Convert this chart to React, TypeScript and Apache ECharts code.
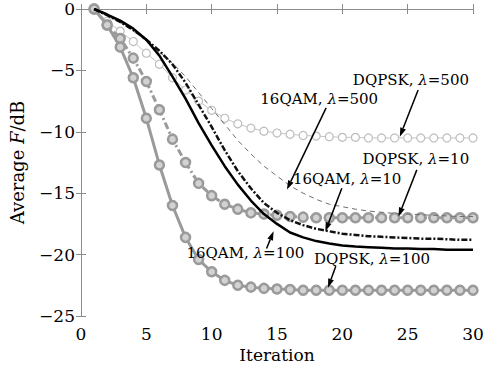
import React, { useEffect, useRef } from "react";
import * as echarts from "echarts";

// Iteration index (x) and average fidelity in dB for each scheme
const iterations = [1, 2, 3, 4, 5, 6, 7, 8, 9, 10, 11, 12, 13, 14, 15, 16, 17, 18, 19, 20, 21, 22, 23, 24, 25, 26, 27, 28, 29, 30];

const dqpsk500 = [0, -1.0, -1.8, -2.65, -3.6, -4.5, -5.6, -6.6, -7.5, -8.25, -8.9, -9.35, -9.7, -9.95, -10.1, -10.2, -10.3, -10.35, -10.4, -10.45, -10.45, -10.5, -10.5, -10.5, -10.5, -10.5, -10.5, -10.5, -10.5, -10.5];
const dqpsk10 = [0, -1.3, -2.4, -4.0, -5.9, -8.2, -10.6, -12.5, -14.2, -15.2, -15.9, -16.3, -16.6, -16.7, -16.8, -16.9, -16.95, -17.0, -17.0, -17.0, -17.0, -17.0, -17.0, -17.0, -17.0, -17.0, -17.0, -17.0, -17.0, -17.0];
const dqpsk100 = [0, -1.3, -3.1, -5.6, -8.9, -12.7, -16.0, -18.6, -20.4, -21.4, -22.1, -22.5, -22.65, -22.75, -22.8, -22.85, -22.9, -22.9, -22.9, -22.9, -22.9, -22.9, -22.9, -22.9, -22.9, -22.9, -22.9, -22.9, -22.9, -22.9];
const qam500 = [0, -0.5, -1.1, -1.8, -2.6, -3.5, -4.4, -5.5, -6.8, -8.1, -9.4, -10.7, -11.8, -12.8, -13.6, -14.4, -15.0, -15.5, -15.9, -16.1, -16.3, -16.45, -16.55, -16.65, -16.7, -16.75, -16.8, -16.85, -16.9, -16.9];
const qam10 = [0, -0.5, -1.05, -1.7, -2.5, -3.4, -4.5, -6.0, -7.8, -9.6, -11.5, -13.2, -14.6, -15.8, -16.6, -17.2, -17.6, -17.9, -18.1, -18.3, -18.4, -18.5, -18.55, -18.6, -18.65, -18.7, -18.7, -18.75, -18.8, -18.8];
const qam100 = [0, -0.45, -0.95, -1.6, -2.5, -3.8, -5.5, -7.3, -9.3, -11.1, -12.8, -14.3, -15.6, -16.7, -17.5, -18.2, -18.6, -18.9, -19.1, -19.25, -19.35, -19.4, -19.45, -19.5, -19.5, -19.55, -19.55, -19.6, -19.6, -19.6];

const xTicks = [0, 5, 10, 15, 20, 25, 30];
const yTicks = [-25, -20, -15, -10, -5, 0];

// Callouts: [scheme, lambda, label centre (x, y), arrow tail (x, y), arrow head (x, y)]
const callouts: [string, string, number, number, number, number, number, number][] = [
  ["DQPSK", "500", 25.25, -5.77, 25.8, -6.6, 24.4, -10.4],
  ["16QAM", "500", 18.23, -7.32, 18.76, -8.05, 15.76, -14.7],
  ["16QAM", "10", 20.37, -13.82, 19.96, -14.6, 18.7, -18.1],
  ["DQPSK", "10", 25.63, -12.2, 25.7, -13.1, 24.3, -16.9],
  ["16QAM", "100", 12.58, -19.84, 14.2, -19.5, 14.74, -18.1],
  ["DQPSK", "100", 22.27, -20.33, 19.5, -20.95, 18.9, -22.7],
];

const FONT = "DejaVu Serif";

const pairs = (ys: number[]) => iterations.map((x, i) => [x, ys[i]]);
const minus = (v: number) => String(v).replace("-", "\u2212");

export default function App() {
  const ref = useRef<HTMLDivElement>(null);

  useEffect(() => {
    if (!ref.current) return;
    const chart = echarts.init(ref.current, null, { renderer: "svg" });

    const ringMarker = {
      symbol: "circle",
      symbolSize: 9,
      itemStyle: { color: "#d2d2d2", borderColor: "#9a9a9a", borderWidth: 2.5 },
    };

    const frameAxis = { lineStyle: { color: "#8c8c8c", width: 1 } };
    const frameTick = { inside: true, length: 5, lineStyle: { color: "#8c8c8c" } };

    chart.setOption({
      animation: false,
      backgroundColor: "#ffffff",
      grid: { left: 80, right: 28, top: 9, bottom: 57 },
      xAxis: [
        {
          type: "value",
          min: 0,
          max: 30,
          interval: 5,
          name: "Iteration",
          nameLocation: "middle",
          nameGap: 30,
          nameTextStyle: { fontFamily: FONT, fontSize: 17, color: "#000" },
          axisLine: frameAxis,
          axisTick: frameTick,
          axisLabel: { fontFamily: FONT, fontSize: 17, color: "#000", margin: 9, formatter: (v: number) => (xTicks.includes(v) ? minus(v) : "") },
          splitLine: { show: false },
        },
        {
          type: "value",
          position: "top",
          min: 0,
          max: 30,
          interval: 5,
          axisLine: frameAxis,
          axisTick: frameTick,
          axisLabel: { show: false },
          splitLine: { show: false },
        },
      ],
      yAxis: [
        {
          type: "value",
          min: -25,
          max: 0,
          interval: 5,
          name: "Average {i|F}/dB",
          nameLocation: "middle",
          nameGap: 55,
          nameTextStyle: {
            fontFamily: FONT,
            fontSize: 18,
            color: "#000",
            rich: { i: { fontFamily: FONT, fontSize: 18, fontStyle: "italic", color: "#000" } },
          },
          axisLine: { show: true, ...frameAxis },
          axisTick: { show: true, ...frameTick },
          axisLabel: { fontFamily: FONT, fontSize: 17, color: "#000", margin: 6, formatter: (v: number) => (yTicks.includes(v) ? minus(v) : "") },
          splitLine: { show: false },
        },
        {
          type: "value",
          position: "right",
          min: -25,
          max: 0,
          interval: 5,
          axisLine: { show: true, ...frameAxis },
          axisTick: { show: true, ...frameTick },
          axisLabel: { show: false },
          splitLine: { show: false },
        },
      ],
      series: [
        {
          name: "DQPSK, λ=500",
          type: "line",
          data: pairs(dqpsk500),
          symbol: "circle",
          symbolSize: 8,
          showAllSymbol: true,
          lineStyle: { color: "#c4c4c4", width: 1 },
          itemStyle: { color: "#ffffff", borderColor: "#bdbdbd", borderWidth: 1.2 },
          z: 2,
        },
        {
          name: "DQPSK, λ=10",
          type: "line",
          data: pairs(dqpsk10),
          ...ringMarker,
          showAllSymbol: true,
          lineStyle: { color: "#9a9a9a", width: 3, type: [7, 3, 2, 3] },
          z: 3,
        },
        {
          name: "DQPSK, λ=100",
          type: "line",
          data: pairs(dqpsk100),
          ...ringMarker,
          showAllSymbol: true,
          lineStyle: { color: "#9a9a9a", width: 3 },
          z: 3,
        },
        {
          name: "16QAM, λ=500",
          type: "line",
          data: pairs(qam500),
          symbol: "none",
          lineStyle: { color: "#6e6e6e", width: 1, type: [5, 4] },
          z: 4,
        },
        {
          name: "16QAM, λ=10",
          type: "line",
          data: pairs(qam10),
          symbol: "none",
          lineStyle: { color: "#111111", width: 2.5, type: [6, 2, 2, 2] },
          z: 5,
        },
        {
          name: "16QAM, λ=100",
          type: "line",
          data: pairs(qam100),
          symbol: "none",
          lineStyle: { color: "#000000", width: 2.5 },
          z: 5,
        },
      ],
    });

    // Callout labels and arrows, placed through the grid's coordinate system
    const elements: any[] = [];
    callouts.forEach(([scheme, lam, lx, ly, tx, ty, hx, hy]) => {
      const [px, py] = chart.convertToPixel({ gridIndex: 0 }, [lx, ly]) as number[];
      const [ax, ay] = chart.convertToPixel({ gridIndex: 0 }, [tx, ty]) as number[];
      const [bx, by] = chart.convertToPixel({ gridIndex: 0 }, [hx, hy]) as number[];
      elements.push({
        type: "text",
        x: px,
        y: py,
        z: 100,
        style: {
          text: `{a|${scheme}, }{i|λ}{a|=${lam}}`,
          align: "center",
          verticalAlign: "middle",
          rich: {
            a: { fontFamily: FONT, fontSize: 15, fill: "#000" },
            i: { fontFamily: FONT, fontSize: 15, fontStyle: "italic", fill: "#000" },
          },
          fill: "#000",
        },
      });
      const dx = bx - ax;
      const dy = by - ay;
      const len = Math.sqrt(dx * dx + dy * dy);
      const ux = dx / len;
      const uy = dy / len;
      const headLen = 9;
      const headW = 3;
      const baseX = bx - ux * headLen;
      const baseY = by - uy * headLen;
      elements.push({
        type: "line",
        z: 100,
        shape: { x1: ax, y1: ay, x2: baseX, y2: baseY },
        style: { stroke: "#000", lineWidth: 1.5 },
      });
      elements.push({
        type: "polygon",
        z: 100,
        shape: {
          points: [
            [bx, by],
            [baseX - uy * headW, baseY + ux * headW],
            [baseX + uy * headW, baseY - ux * headW],
          ],
        },
        style: { fill: "#000" },
      });
    });
    chart.setOption({ graphic: elements });

    return () => chart.dispose();
  }, []);

  return <div ref={ref} style={{ position: "fixed", left: 0, top: 0, width: 501, height: 373 }} />;
}
